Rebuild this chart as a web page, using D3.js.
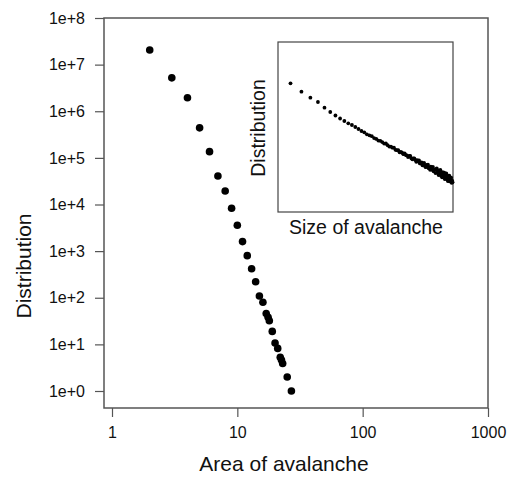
<!DOCTYPE html>
<html><head><meta charset="utf-8">
<script src="https://cdn.jsdelivr.net/npm/d3@7"></script>
<style>
html,body{margin:0;padding:0;background:#fff;}
svg{display:block;font-family:Arial,"Liberation Sans",sans-serif;}
</style></head>
<body>
<svg id="c" width="509" height="477"></svg>
<script>
// ---- main chart data ----
const areaValues = [2,3,4,5,6,7,8,9,10,11,12,13,14,15,16,17,17.6,18,19,20,21,22,22.5,23,25,27];
const distValues = [2.06e7,5.2e6,1.95e6,4.4e5,1.36e5,4.1e4,1.95e4,8.3e3,3.6e3,1.6e3,800,420,221,109,80,46,38,32,19,10.7,8.2,5.3,4.6,3.9,2.0,1.0];
const xTickValues = [1,10,100,1000];
const xTickLabels = ["1","10","100","1000"];
const yTickValues = [1e0,1e1,1e2,1e3,1e4,1e5,1e6,1e7,1e8];
const yTickLabels = ["1e+0","1e+1","1e+2","1e+3","1e+4","1e+5","1e+6","1e+7","1e+8"];

// ---- inset data (no axes shown): size and log10 of distribution ----
const insetSize = d3.range(4,110);
const insetLogDist = [
-1.215,-1.462,-1.638,-1.765,-1.932,-2.059,-2.162,-2.25,-2.324,-2.391,-2.441,-2.50,-2.559,-2.618,
-2.657,-2.714,-2.744,-2.769,-2.825,-2.852,-2.900,-2.906,-2.943,-2.988,
-2.986,-3.036,-3.077,-3.075,-3.107,-3.109,-3.172,-3.182,-3.183,-3.244,
-3.230,-3.257,-3.300,-3.274,-3.327,-3.336,-3.383,-3.351,-3.353,-3.419,
-3.450,-3.426,-3.422,-3.472,-3.522,-3.477,-3.512,-3.486,-3.570,-3.563,
-3.542,-3.625,-3.578,-3.556,-3.638,-3.681,-3.613,-3.655,-3.607,-3.713,
-3.680,-3.761,-3.667,-3.703,-3.754,-3.675,-3.805,-3.766,-3.746,-3.856,
-3.746,-3.716,-3.845,-3.805,-3.915,-3.784,-3.863,-3.762,-3.931,-3.850,
-3.979,-3.828,-3.906,-3.965,-3.844,-4.032,-3.900,-3.978,-3.866,-4.034,
-3.952,-4.090,-3.938,-4.036,-3.933,-4.101,-4.018,-4.086,-3.993,-4.140,
-4.077,-4.125];

const svg = d3.select("#c");
const frameColor = "#555";
const textColor = "#111";

// main plot geometry
const L = 104, R = 488, T = 18, B = 408;
const x = d3.scaleLog().domain([1,1000]).range([112, R]);
const y = d3.scaleLog().domain([1,1e8]).range([391, T]);

// frame
svg.append("rect").attr("x",L).attr("y",T).attr("width",R-L).attr("height",B-T)
  .attr("fill","none").attr("stroke",frameColor).attr("stroke-width",1.5);

// x axis
const xAxis = d3.axisBottom(x).tickValues(xTickValues)
  .tickFormat((d,i)=>xTickLabels[i]).tickSize(9).tickPadding(10);
const gx = svg.append("g").attr("transform",`translate(0,${B})`).call(xAxis);
gx.select(".domain").remove();
gx.selectAll(".tick line").attr("stroke",frameColor).attr("stroke-width",1.2);
gx.selectAll(".tick text").attr("fill",textColor).style("font-size","16px");

// y axis
const yAxis = d3.axisLeft(y).tickValues(yTickValues)
  .tickFormat((d,i)=>yTickLabels[i]).tickSize(9).tickPadding(10);
const gy = svg.append("g").attr("transform",`translate(${L},0)`).call(yAxis);
gy.select(".domain").remove();
gy.selectAll(".tick line").attr("stroke",frameColor).attr("stroke-width",1.2);
gy.selectAll(".tick text").attr("fill",textColor).style("font-size","16px");

// axis titles
svg.append("text").attr("x",284).attr("y",471).attr("text-anchor","middle")
  .attr("fill",textColor).style("font-size","21px").text("Area of avalanche");
svg.append("text").attr("transform","translate(31,266) rotate(-90)").attr("text-anchor","middle")
  .attr("fill",textColor).style("font-size","21px").text("Distribution");

// main points
svg.append("g").selectAll("circle").data(areaValues).join("circle")
  .attr("cx",(d)=>x(d)).attr("cy",(d,i)=>y(distValues[i])).attr("r",3.8).attr("fill","#000");

// ---- inset ----
const iL = 278, iR = 453, iT = 42, iB = 212;
const ix = d3.scaleLog().domain([3.1,110]).range([iL,iR]);
const iy = d3.scaleLinear().domain([0,-5]).range([iT,iB]);
svg.append("rect").attr("x",iL).attr("y",iT).attr("width",iR-iL).attr("height",iB-iT)
  .attr("fill","#fff").attr("stroke","#444").attr("stroke-width",1.2);
svg.append("g").selectAll("circle").data(insetSize).join("circle")
  .attr("cx",(d)=>ix(d)).attr("cy",(d,i)=>iy(insetLogDist[i])).attr("r",1.9).attr("fill","#000");
svg.append("text").attr("x",366).attr("y",234).attr("text-anchor","middle")
  .attr("fill",textColor).style("font-size","19.5px").text("Size of avalanche");
svg.append("text").attr("transform","translate(265,128) rotate(-90)").attr("text-anchor","middle")
  .attr("fill",textColor).style("font-size","19.5px").text("Distribution");
</script>
</body></html>
